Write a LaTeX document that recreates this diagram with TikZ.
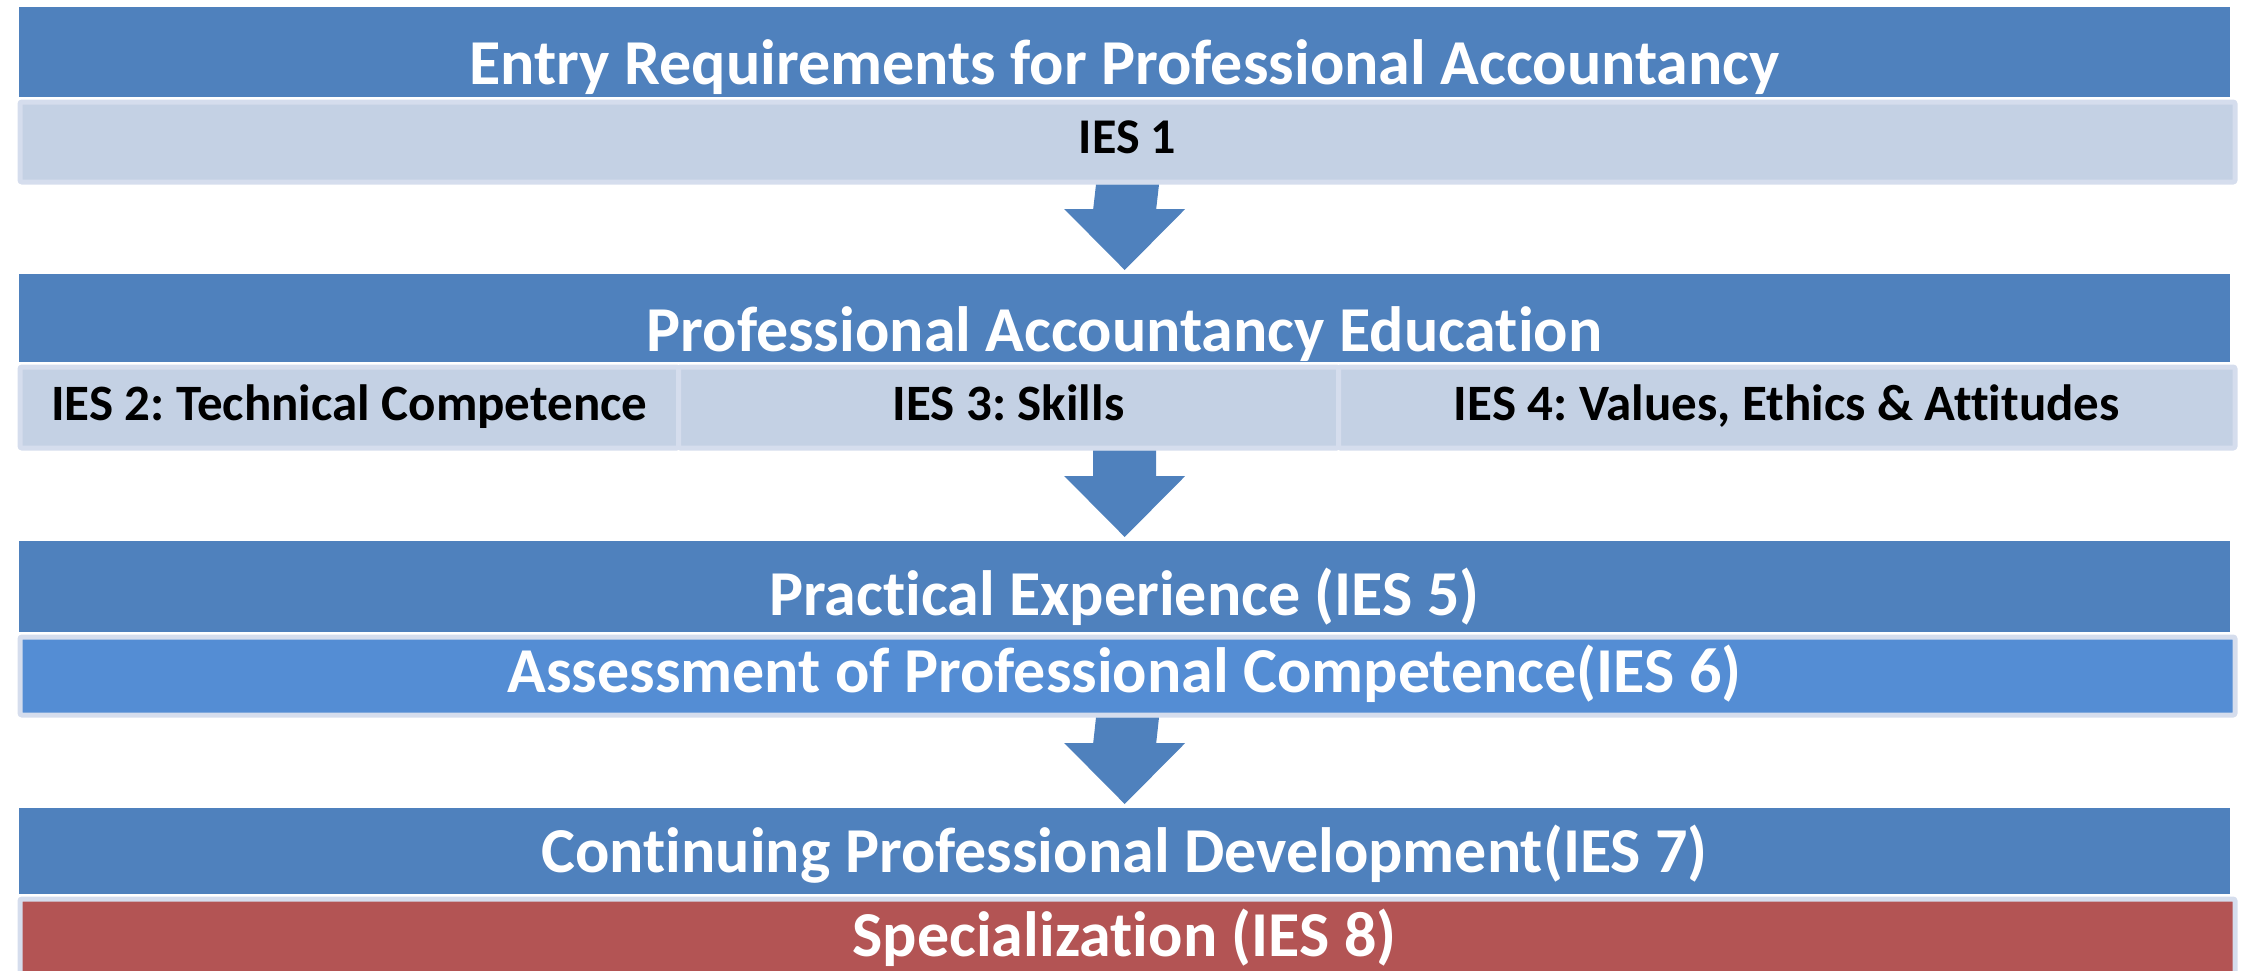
\documentclass[tikz,border=0pt]{standalone}
\usepackage{fontspec}
\setmainfont{Carlito}[Ligatures=NoCommon]
\usetikzlibrary{calc}
\frenchspacing

\definecolor{barblue}{RGB}{79,129,189}
\definecolor{paleblue}{RGB}{196,209,228}
\definecolor{paleedge}{RGB}{213,221,237}
\definecolor{midblue}{RGB}{84,141,212}
\definecolor{specred}{RGB}{179,84,84}

\begin{document}
\begin{tikzpicture}[x=1pt,y=1pt,yscale=-1,xscale=1,
    band/.style={fill=barblue, inner sep=0pt, anchor=north west, minimum width=2211pt},
    subbox/.style={fill=paleblue, draw=paleedge, line width=5pt, rounded corners=2pt, inner sep=0pt, anchor=north west},
    headtxt/.style={text=white, font=\fontsize{64}{76}\selectfont\bfseries, anchor=base, inner sep=0pt},
    iestxt/.style={text=black, font=\fontsize{51}{62}\selectfont\bfseries, anchor=base, inner sep=0pt}]
    \useasboundingbox (0,0) rectangle (2244,970);

    %Shape: Rectangle (entry)
    \node [subbox, minimum width=2215pt, minimum height=80pt] (ies1) at (17.5,99.5) {};
    \node [band, minimum height=90pt] (entry) at (19,7) {};
    %Shape: Rectangle (education)
    \node [subbox, minimum width=658.5pt, minimum height=81pt] (ies2) at (17.5,364.5) {};
    \node [subbox, minimum width=660pt, minimum height=81pt] (ies3) at (676,364.5) {};
    \node [subbox, minimum width=896.5pt, minimum height=81pt] (ies4) at (1336,364.5) {};
    \node [band, minimum height=88pt] (edu) at (19,274) {};
    %Shape: Rectangle (experience)
    \node [subbox, fill=midblue, minimum width=2215pt, minimum height=78pt] (assess) at (17.5,634.5) {};
    \node [band, minimum height=91pt] (prac) at (19,541) {};
    %Shape: Rectangle (development)
    \node [subbox, fill=specred, minimum width=2215pt, minimum height=90pt] (spec) at (17.5,896.5) {};
    \node [band, minimum height=86pt] (cpd) at (19,808) {};

    %Block Arrows
    \fill [barblue] ($(ies1.south)+(-31.5,0)$) -- ($(edu.north)+(-31.5,-65)$) -- ($(edu.north)+(-60.5,-65)$) -- ($(edu.north)+(0,-4)$) -- ($(edu.north)+(60.5,-65)$) -- ($(edu.north)+(31.5,-65)$) -- ($(ies1.south)+(31.5,0)$) -- cycle;
    \fill [barblue] ($(prac.north |- ies3.south)+(-31.5,0)$) -- ($(prac.north)+(-31.5,-65)$) -- ($(prac.north)+(-60.5,-65)$) -- ($(prac.north)+(0,-4)$) -- ($(prac.north)+(60.5,-65)$) -- ($(prac.north)+(31.5,-65)$) -- ($(prac.north |- ies3.south)+(31.5,0)$) -- cycle;
    \fill [barblue] ($(assess.south)+(-31.5,0)$) -- ($(cpd.north)+(-31.5,-65)$) -- ($(cpd.north)+(-60.5,-65)$) -- ($(cpd.north)+(0,-4)$) -- ($(cpd.north)+(60.5,-65)$) -- ($(cpd.north)+(31.5,-65)$) -- ($(assess.south)+(31.5,0)$) -- cycle;

    % Text Node
    \node [headtxt] (entrytxt) at (1124.5,84) {Entry Requirements for Professional Accountancy};
    % Text Node
    \node [iestxt, font=\fontsize{50}{60}\selectfont\bfseries] (ies1txt) at (ies1 |- 0,153) {IES 1};
    % Text Node
    \node [headtxt] (edutxt) at (1124.5,351) {Professional Accountancy Education};
    % Text Node
    \node [iestxt] (ies2txt) at (ies2 |- 0,420) {IES 2: Technical Competence};
    % Text Node
    \node [iestxt] (ies3txt) at (ies3 |- 0,420) {IES 3: Skills};
    % Text Node
    \node [iestxt] (ies4txt) at (ies4 |- 0,420) {IES 4: Values, Ethics \& Attitudes};
    % Text Node
    \node [headtxt] (practxt) at (1124.5,615) {Practical Experience (IES 5)};
    % Text Node
    \node [headtxt] (assesstxt) at (1124.5,692) {Assessment of Professional Competence(IES 6)};
    % Text Node
    \node [headtxt] (cpdtxt) at (1124.5,872) {Continuing Professional Development(IES 7)};
    % Text Node
    \node [headtxt] (spectxt) at (1124.5,956) {Specialization (IES 8)};
\end{tikzpicture}
\end{document}
